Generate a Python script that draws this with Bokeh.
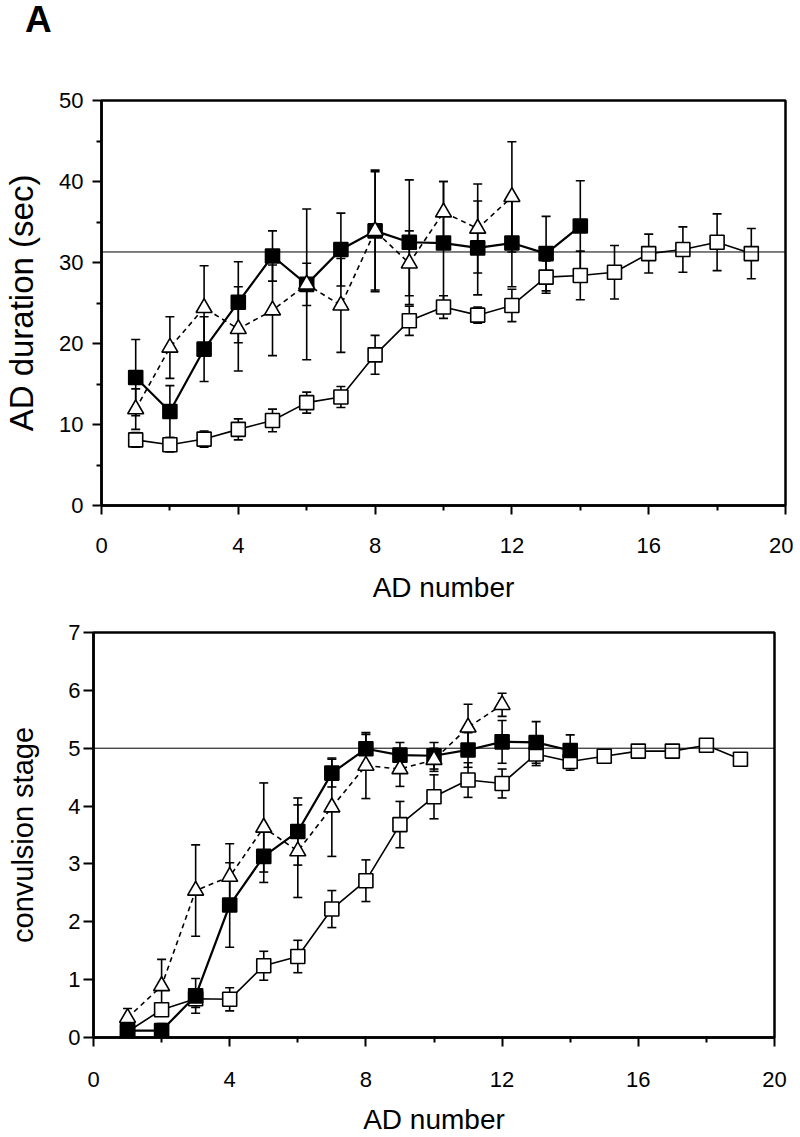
from bokeh.plotting import figure
from bokeh.models import ColumnDataSource, Whisker, TeeHead, FixedTicker, Span, Range1d, Div
from bokeh.layouts import column, row
from bokeh.embed import file_html
from bokeh.resources import INLINE

FONT = "Liberation Sans"

# ---------------- data ----------------
ad_open = list(range(1, 20))
ad_filled = list(range(1, 15))
ad_tri = list(range(1, 13))

# Panel 1: AD duration (sec)
dur_open = [8.1, 7.5, 8.2, 9.4, 10.5, 12.7, 13.4, 18.6, 22.8, 24.5, 23.5, 24.7, 28.2, 28.4, 28.8, 31.1, 31.6, 32.5, 31.1]
dur_open_err = [0.9, 0.9, 1.0, 1.3, 1.4, 1.3, 1.3, 2.4, 1.8, 1.4, 1.0, 2.0, 2.0, 3.0, 3.3, 2.4, 2.8, 3.5, 3.1]
dur_filled = [15.8, 11.6, 19.3, 25.1, 30.8, 27.3, 31.6, 33.9, 32.5, 32.4, 31.8, 32.4, 31.1, 34.5]
dur_filled_err = [4.7, 3.2, 4.0, 5.0, 3.1, 9.3, 4.5, 7.5, 7.7, 7.6, 5.8, 5.4, 4.6, 5.6]
dur_tri = [11.9, 19.5, 24.4, 21.8, 24.1, 27.3, 24.7, 33.9, 29.9, 36.2, 34.2, 38.1]
dur_tri_err = [2.5, 3.8, 5.2, 5.2, 5.6, 2.6, 5.8, 7.3, 4.0, 3.8, 5.5, 6.8]
dur_ref = 31.3

# Panel 2: convulsion stage
stg_open = [0.10, 0.48, 0.67, 0.66, 1.24, 1.40, 2.22, 2.71, 3.68, 4.16, 4.45, 4.39, 4.90, 4.77, 4.86, 4.95, 4.95, 5.05, 4.81]
stg_open_err = [0.05, 0.10, 0.15, 0.20, 0.25, 0.28, 0.32, 0.36, 0.40, 0.38, 0.30, 0.25, 0.20, 0.15, 0.05, 0.04, 0.04, 0.07, 0.04]
stg_filled = [0.12, 0.12, 0.72, 2.29, 3.13, 3.56, 4.57, 4.99, 4.88, 4.87, 4.97, 5.11, 5.10, 4.96]
stg_filled_err = [0.05, 0.12, 0.30, 0.73, 0.45, 0.58, 0.24, 0.25, 0.22, 0.23, 0.30, 0.37, 0.36, 0.27]
stg_tri = [0.34, 0.89, 2.54, 2.78, 3.63, 3.22, 3.98, 4.70, 4.64, 4.80, 5.36, 5.75]
stg_tri_err = [0.16, 0.46, 0.79, 0.57, 0.77, 0.80, 0.85, 0.57, 0.30, 0.20, 0.40, 0.20]
stg_ref = 5.0

x_ticks = [0, 4, 8, 12, 16, 20]
x_minor = [2, 6, 10, 14, 18]
dur_ticks = [0, 10, 20, 30, 40, 50]
dur_minor = [5, 15, 25, 35, 45]
stg_ticks = [0, 1, 2, 3, 4, 5, 6, 7]


def add_series(p, x, y, err, marker, fill, dash, lw, size):
    src = ColumnDataSource(dict(x=x, y=y,
                                upper=[a + b for a, b in zip(y, err)],
                                lower=[a - b for a, b in zip(y, err)]))
    w = Whisker(source=src, base="x", upper="upper", lower="lower",
                line_color="black", line_width=1.6,
                upper_head=TeeHead(size=9, line_width=1.6, line_color="black"),
                lower_head=TeeHead(size=9, line_width=1.6, line_color="black"))
    p.add_layout(w)
    p.line("x", "y", source=src, line_color="black", line_width=lw, line_dash=dash)
    p.scatter("x", "y", source=src, marker=marker, size=size,
              fill_color=fill, line_color="black", line_width=1.6)


def style(p, yticks, yminor, y_tick_out, y_std, y_label_std, y_label_size,
          x_std, x_label_std):
    p.grid.visible = False
    p.outline_line_color = "black"
    p.outline_line_width = 2.5
    p.outline_line_alpha = 1.0
    p.background_fill_color = "white"
    p.border_fill_color = "white"
    p.xaxis.ticker = FixedTicker(ticks=x_ticks, minor_ticks=x_minor)
    p.yaxis.ticker = FixedTicker(ticks=yticks, minor_ticks=yminor)
    for ax in (p.xaxis[0], p.yaxis[0]):
        ax.axis_line_width = 2.5
        ax.axis_line_color = "black"
        ax.major_tick_line_width = 2
        ax.minor_tick_line_width = 2
        ax.major_tick_in = 0
        ax.minor_tick_in = 0
        ax.minor_tick_out = 5
        ax.major_label_text_font = FONT
        ax.major_label_text_font_size = "22px"
        ax.major_label_text_color = "black"
        ax.axis_label_text_font = FONT
        ax.axis_label_text_font_size = "28px"
        ax.axis_label_text_font_style = "normal"
        ax.axis_label_text_color = "black"
    p.yaxis.axis_label_text_font_size = y_label_size
    p.xaxis.major_tick_out = 9
    p.xaxis.major_label_standoff = x_std
    p.xaxis.axis_label_standoff = x_label_std
    p.yaxis.major_tick_out = y_tick_out
    p.yaxis.major_label_standoff = y_std
    p.yaxis.axis_label_standoff = y_label_std


panel_letter = Div(text="A", width=200, height=40, margin=0,
                   styles={"font-family": FONT, "font-size": "37px", "font-weight": "bold",
                           "color": "black", "padding-left": "25px", "padding-top": "1px",
                           "line-height": "1"})

# ---------------- panel 1 ----------------
p1 = figure(frame_width=684, frame_height=405,
            min_border_left=101, min_border_top=60, min_border_right=8, min_border_bottom=100,
            x_range=Range1d(0, 20), y_range=Range1d(0, 50),
            output_backend="svg", toolbar_location=None,
            x_axis_label="AD number", y_axis_label="AD duration (sec)")
style(p1, dur_ticks, dur_minor, 9, 9, 16, "33px", 23, 16)
p1.add_layout(Span(location=dur_ref, dimension="width", line_color="black", line_width=1))
add_series(p1, ad_open, dur_open, dur_open_err, "square", "white", "solid", 1.6, 14)
add_series(p1, ad_filled, dur_filled, dur_filled_err, "square", "black", "solid", 2.2, 14)
add_series(p1, ad_tri, dur_tri, dur_tri_err, "triangle", "white", "5 4", 1.6, 16)

# ---------------- panel 2 ----------------
p2 = figure(frame_width=681, frame_height=405,
            min_border_left=93, min_border_top=27, min_border_right=26, min_border_bottom=98,
            x_range=Range1d(0, 20), y_range=Range1d(0, 7),
            output_backend="svg", toolbar_location=None,
            x_axis_label="AD number", y_axis_label="convulsion stage")
style(p2, stg_ticks, [], 10, 3, 26, "29px", 25, 14)
p2.add_layout(Span(location=stg_ref, dimension="width", line_color="black", line_width=1))
add_series(p2, ad_open, stg_open, stg_open_err, "square", "white", "solid", 1.6, 14)
add_series(p2, ad_filled, stg_filled, stg_filled_err, "square", "black", "solid", 2.2, 14)
add_series(p2, ad_tri, stg_tri, stg_tri_err, "triangle", "white", "5 4", 1.6, 16)

layout = column(panel_letter, row(p1), row(p2))
open("out.html", "w").write(file_html(layout, INLINE))
